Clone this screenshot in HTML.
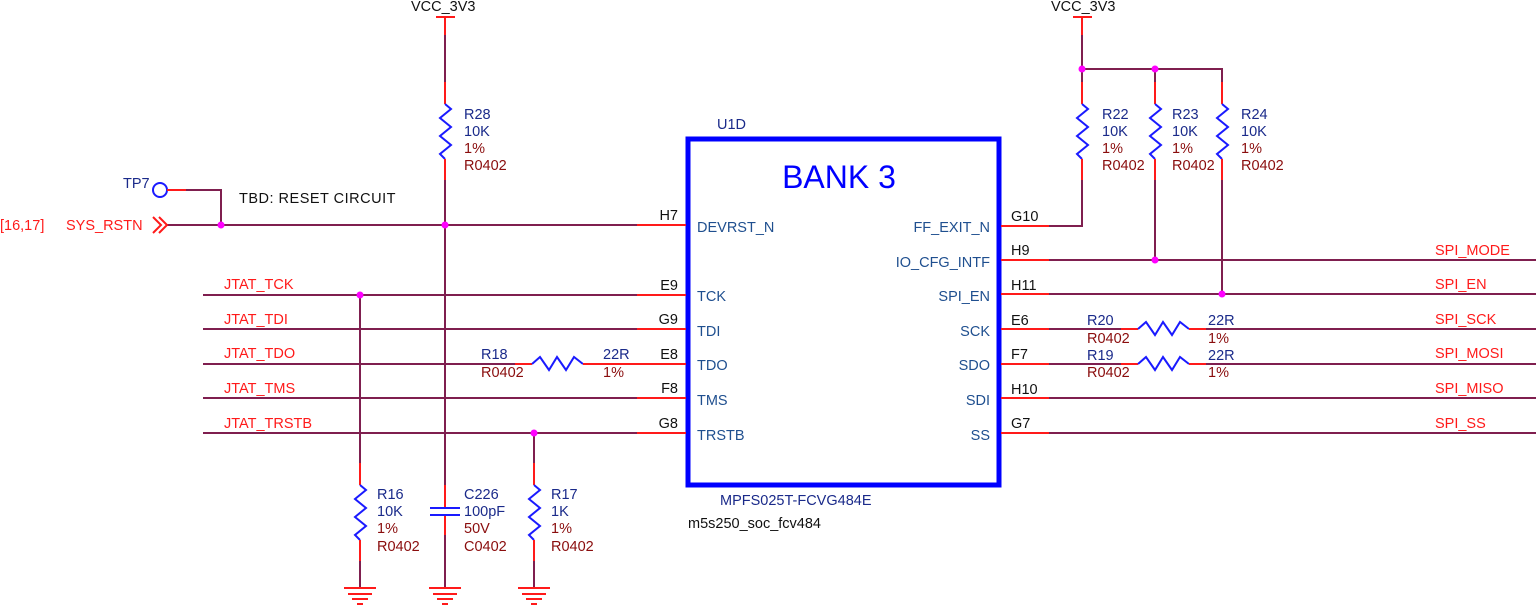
<!DOCTYPE html>
<html><head><meta charset="utf-8"><style>
html,body{margin:0;padding:0;background:#fff;}
svg{display:block;}
text{font-family:"Liberation Sans","DejaVu Sans",sans-serif;font-size:14.5px;}
.w{stroke:#7f1f4f;stroke-width:2;fill:none;}
.r{stroke:#ff1a1a;stroke-width:2;fill:none;}
.z{stroke:#1a1aff;stroke-width:2;fill:none;}
.nv{fill:#1a2a8a;}
.dr{fill:#8a0d0d;}
.rd{fill:#ff1a1a;}
.bk{fill:#111;}
.pn{fill:#1f4f8f;}
.j{fill:#ff00ff;}
</style></head><body>
<svg width="1536" height="605" viewBox="0 0 1536 605" xmlns="http://www.w3.org/2000/svg">
<defs>
<g id="resv">
<path class="r" d="M0,-30 V-8"/>
<path class="z" d="M0,-8 L6,-3 L-5,6 L6,15 L-5,24 L6,33 L-5,42 L0,47"/>
<path class="r" d="M0,47 V68"/>
</g>
<g id="resh">
<path class="r" d="M-17,0 H0"/>
<path class="z" d="M0,0 L8,-7 L17,6 L25,-7 L34,6 L42,-7 L51,0"/>
<path class="r" d="M51,0 H68"/>
</g>
<g id="gnd">
<path class="r" d="M-16,0 H16 M-12,6 H12 M-8,11 H8 M-3,16 H3"/>
</g>
</defs>

<!-- IC box -->
<rect x="688" y="139" width="311" height="346" fill="none" stroke="#0000ff" stroke-width="5"/>
<text x="839" y="188" text-anchor="middle" style="font-size:32px" fill="#0000ff">BANK 3</text>
<text x="717" y="129" class="nv">U1D</text>
<text x="720" y="505" class="nv">MPFS025T-FCVG484E</text>
<text x="688" y="528" class="bk">m5s250_soc_fcv484</text>

<!-- left pins -->
<g>
<path class="r" d="M637,225H686 M637,295H686 M637,329H686 M584,364H686 M637,398H686 M637,433H686"/>
<text x="678" y="220" text-anchor="end" class="bk">H7</text>
<text x="678" y="290" text-anchor="end" class="bk">E9</text>
<text x="678" y="324" text-anchor="end" class="bk">G9</text>
<text x="678" y="359" text-anchor="end" class="bk">E8</text>
<text x="678" y="393" text-anchor="end" class="bk">F8</text>
<text x="678" y="428" text-anchor="end" class="bk">G8</text>
<text x="697" y="232" class="pn">DEVRST_N</text>
<text x="697" y="301" class="pn">TCK</text>
<text x="697" y="336" class="pn">TDI</text>
<text x="697" y="370" class="pn">TDO</text>
<text x="697" y="405" class="pn">TMS</text>
<text x="697" y="440" class="pn">TRSTB</text>
</g>
<!-- right pins -->
<g>
<path class="r" d="M1001,226H1049 M1001,260H1049 M1001,294H1049 M1001,329H1049 M1001,364H1049 M1001,398H1049 M1001,433H1049"/>
<text x="1011" y="221" class="bk">G10</text>
<text x="1011" y="255" class="bk">H9</text>
<text x="1011" y="290" class="bk">H11</text>
<text x="1011" y="325" class="bk">E6</text>
<text x="1011" y="359" class="bk">F7</text>
<text x="1011" y="394" class="bk">H10</text>
<text x="1011" y="428" class="bk">G7</text>
<text x="990" y="232" text-anchor="end" class="pn">FF_EXIT_N</text>
<text x="990" y="267" text-anchor="end" class="pn">IO_CFG_INTF</text>
<text x="990" y="301" text-anchor="end" class="pn">SPI_EN</text>
<text x="990" y="336" text-anchor="end" class="pn">SCK</text>
<text x="990" y="370" text-anchor="end" class="pn">SDO</text>
<text x="990" y="405" text-anchor="end" class="pn">SDI</text>
<text x="990" y="440" text-anchor="end" class="pn">SS</text>
</g>

<!-- left wiring -->
<path class="w" d="M166,225H637 M203,295H637 M203,329H637 M203,364H515 M203,398H637 M203,433H637"/>
<text x="0" y="230" class="rd">[16,17]</text>
<text x="66" y="230" class="rd">SYS_RSTN</text>
<path class="r" d="M153,217 L161,225 L153,233 M159,217 L167,225 L159,233"/>
<circle cx="160" cy="190" r="7" fill="none" stroke="#1a1aff" stroke-width="2"/>
<text x="123" y="188" class="nv">TP7</text>
<path class="r" d="M167,190H186"/>
<path class="w" d="M186,190H221V225"/>
<text x="239" y="203" class="bk" style="letter-spacing:0.5px">TBD:  RESET CIRCUIT</text>
<text x="224" y="289" class="rd">JTAT_TCK</text>
<text x="224" y="324" class="rd">JTAT_TDI</text>
<text x="224" y="358" class="rd">JTAT_TDO</text>
<text x="224" y="393" class="rd">JTAT_TMS</text>
<text x="224" y="428" class="rd">JTAT_TRSTB</text>

<!-- R28 -->
<text x="411" y="11" class="bk">VCC_3V3</text>
<path class="r" d="M436,17H455 M445,17V35"/>
<path class="w" d="M445,35V83"/>
<use href="#resv" x="445" y="112"/>
<path class="w" d="M445,180V485"/>
<text x="464" y="119" class="nv">R28</text>
<text x="464" y="136" class="nv">10K</text>
<text x="464" y="153" class="dr">1%</text>
<text x="464" y="170" class="dr">R0402</text>

<!-- C226 -->
<path class="r" d="M445,485V507 M445,516V535"/>
<path class="z" d="M430,508H460 M430,515H460"/>
<path class="w" d="M445,535V588"/>
<use href="#gnd" x="445" y="588"/>
<text x="464" y="499" class="nv">C226</text>
<text x="464" y="516" class="nv">100pF</text>
<text x="464" y="533" class="dr">50V</text>
<text x="464" y="551" class="dr">C0402</text>

<!-- R16 -->
<path class="w" d="M360,295V467"/>
<use href="#resv" x="360" y="493"/>
<path class="w" d="M360,561V588"/>
<use href="#gnd" x="360" y="588"/>
<text x="377" y="499" class="nv">R16</text>
<text x="377" y="516" class="nv">10K</text>
<text x="377" y="533" class="dr">1%</text>
<text x="377" y="551" class="dr">R0402</text>

<!-- R17 -->
<path class="w" d="M534,433V467"/>
<use href="#resv" x="534" y="493"/>
<path class="w" d="M534,561V588"/>
<use href="#gnd" x="534" y="588"/>
<text x="551" y="499" class="nv">R17</text>
<text x="551" y="516" class="nv">1K</text>
<text x="551" y="533" class="dr">1%</text>
<text x="551" y="551" class="dr">R0402</text>

<!-- R18 -->
<use href="#resh" x="532" y="364"/>
<text x="481" y="359" class="nv">R18</text>
<text x="481" y="377" class="dr">R0402</text>
<text x="603" y="359" class="nv">22R</text>
<text x="603" y="377" class="dr">1%</text>

<!-- right top -->
<text x="1051" y="11" class="bk">VCC_3V3</text>
<path class="r" d="M1073,17H1092 M1082,17V35"/>
<path class="w" d="M1082,35V87 M1082,69H1222V87 M1155,69V87"/>
<use href="#resv" x="1082" y="112"/>
<use href="#resv" x="1155" y="112"/>
<use href="#resv" x="1222" y="112"/>
<path class="w" d="M1082,180V226H1049 M1155,180V260 M1222,180V294"/>
<text x="1102" y="119" class="nv">R22</text><text x="1102" y="136" class="nv">10K</text><text x="1102" y="153" class="dr">1%</text><text x="1102" y="170" class="dr">R0402</text>
<text x="1172" y="119" class="nv">R23</text><text x="1172" y="136" class="nv">10K</text><text x="1172" y="153" class="dr">1%</text><text x="1172" y="170" class="dr">R0402</text>
<text x="1241" y="119" class="nv">R24</text><text x="1241" y="136" class="nv">10K</text><text x="1241" y="153" class="dr">1%</text><text x="1241" y="170" class="dr">R0402</text>

<!-- right nets -->
<path class="w" d="M1049,260H1536 M1049,294H1536 M1049,329H1121 M1206,329H1536 M1049,364H1121 M1206,364H1536 M1049,398H1536 M1049,433H1536"/>
<use href="#resh" x="1138" y="329"/>
<use href="#resh" x="1138" y="364"/>
<text x="1087" y="325" class="nv">R20</text><text x="1087" y="343" class="dr">R0402</text>
<text x="1208" y="325" class="nv">22R</text><text x="1208" y="343" class="dr">1%</text>
<text x="1087" y="360" class="nv">R19</text><text x="1087" y="377" class="dr">R0402</text>
<text x="1208" y="360" class="nv">22R</text><text x="1208" y="377" class="dr">1%</text>
<text x="1435" y="255" class="rd">SPI_MODE</text>
<text x="1435" y="289" class="rd">SPI_EN</text>
<text x="1435" y="324" class="rd">SPI_SCK</text>
<text x="1435" y="358" class="rd">SPI_MOSI</text>
<text x="1435" y="393" class="rd">SPI_MISO</text>
<text x="1435" y="428" class="rd">SPI_SS</text>

<!-- junctions -->
<g class="j">
<circle cx="221" cy="225" r="3.5"/><circle cx="445" cy="225" r="3.5"/>
<circle cx="360" cy="295" r="3.5"/><circle cx="534" cy="433" r="3.5"/>
<circle cx="1082" cy="69" r="3.5"/><circle cx="1155" cy="69" r="3.5"/>
<circle cx="1155" cy="260" r="3.5"/><circle cx="1222" cy="294" r="3.5"/>
</g>
</svg>
</body></html>
